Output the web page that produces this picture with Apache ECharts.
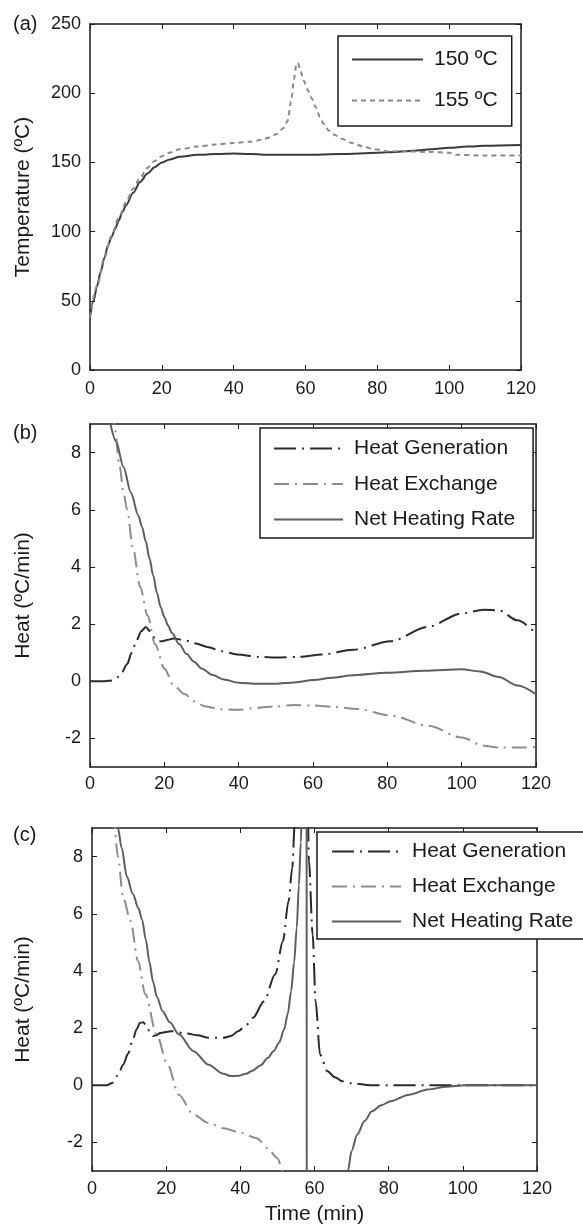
<!DOCTYPE html>
<html>
<head>
<meta charset="utf-8">
<script src="https://cdn.jsdelivr.net/npm/echarts@6/dist/echarts.min.js"></script>
<style>
html, body { margin: 0; padding: 0; background: #fff; }
#container { width: 583px; height: 1226px; }
</style>
</head>
<body>
<div id="container"></div>
<script>
// ---- (a) temperature, 150 and 155 ºC runs
var timeA150 = [0, 1, 2, 3, 4, 5, 6, 7, 8, 9, 10, 12, 14, 16, 18, 20, 22, 25, 30, 35, 40, 45, 50, 60, 70, 80, 85, 90, 95, 100, 105, 110, 120];
var temp150 = [38, 50, 61, 71, 81, 90, 96, 102, 108, 114, 119, 128, 136, 142, 146.5, 150, 152, 154, 155.5, 156, 156.5, 156, 155.5, 155.5, 156, 157, 157.5, 158.5, 159.5, 160.5, 161.5, 162, 162.5];
var timeA155 = [0, 2, 4, 6, 8, 10, 12, 14, 16, 18, 20, 22, 25, 30, 35, 40, 45, 48, 50, 52, 54, 55, 56, 56.8, 57.4, 57.9, 58.6, 59.5, 60.7, 61.8, 62.8, 64, 65, 66.5, 68, 70, 73, 76, 79, 83, 88, 95, 100, 102, 110, 120];
var temp155 = [38, 61, 81, 97, 110, 121, 131, 139, 146, 151, 154.5, 157, 159.5, 161.5, 163, 164, 165, 166.5, 168, 170.5, 175, 180, 194, 210, 220, 222, 216, 209, 202, 196, 190, 183, 178, 173, 170, 167, 164, 161.5, 159.5, 158, 158, 157.5, 157, 155.5, 155, 155];

// ---- (b) heat terms, 150 ºC
var timeBGen = [0, 4, 6, 7.4, 8.5, 10, 11.2, 12.5, 13.8, 15, 16.2, 17.5, 18.5, 19.5, 21, 22.5, 25.5, 28.5, 31.6, 35.5, 39.6, 45.6, 50, 55.7, 62.7, 70.8, 80.8, 90.9, 99.9, 106, 110, 115, 120];
var heatBGen = [0, 0, 0.03, 0.14, 0.3, 0.6, 1.0, 1.43, 1.75, 1.9, 1.75, 1.5, 1.4, 1.4, 1.45, 1.5, 1.43, 1.32, 1.2, 1.05, 0.94, 0.85, 0.83, 0.85, 0.94, 1.1, 1.4, 1.9, 2.37, 2.5, 2.48, 2.13, 1.67];
var timeBExc = [5, 6.5, 8, 9, 10, 11.5, 13.5, 15.5, 17.5, 20, 22.5, 25.5, 28, 31, 35, 40, 45, 50, 55, 60, 66, 72, 81, 91, 100, 106, 110, 117, 120];
var heatBExc = [10.5, 9.0, 7.5, 6.6, 6.0, 4.7, 3.3, 2.3, 1.3, 0.45, -0.15, -0.45, -0.7, -0.88, -0.98, -1.0, -0.93, -0.88, -0.83, -0.85, -0.9, -0.97, -1.2, -1.56, -1.97, -2.26, -2.32, -2.32, -2.3];
var timeBNet = [5.5, 7, 9, 11, 13, 14, 15, 16, 17, 18, 19, 20, 21, 22, 24, 26, 28, 30, 33, 36, 40, 45, 50, 55, 60, 65, 70, 80, 90, 100, 105, 110, 115, 120];
var heatBNet = [9.0, 8.4, 7.5, 6.6, 5.8, 5.4, 4.9, 4.3, 3.7, 3.1, 2.6, 2.25, 1.95, 1.7, 1.3, 0.95, 0.68, 0.45, 0.22, 0.06, -0.05, -0.09, -0.09, -0.04, 0.04, 0.12, 0.2, 0.3, 0.37, 0.42, 0.34, 0.15, -0.15, -0.45];

// ---- (c) heat terms, 155 ºC (runaway)
var timeCGen = [0, 4, 5.4, 7, 8.4, 9.7, 10.9, 12, 12.9, 13.8, 14.6, 15.5, 16.4, 17.4, 18.4, 21.4, 25.4, 28.5, 31.4, 35.4, 37.5, 39.4, 41.5, 43.4, 46.4, 49.4, 51.5, 53, 54, 54.7, 55.3, 57.5, 58.2, 58.5, 59.5, 60.3, 61.5, 63.5, 65.5, 67.5, 70, 75.5, 80, 90, 100, 110, 120];
var heatCGen = [0, 0, 0.08, 0.35, 0.72, 1.1, 1.54, 1.95, 2.18, 2.2, 2.1, 1.9, 1.72, 1.75, 1.83, 1.89, 1.81, 1.75, 1.66, 1.66, 1.72, 1.89, 2.1, 2.36, 2.94, 3.88, 5.05, 6.45, 7.6, 9.2, 20, 20, 9.5, 7.85, 5.28, 2.94, 1.07, 0.49, 0.28, 0.14, 0.07, 0, 0, 0, 0, 0, 0];
var timeCExc = [5.5, 7, 8.4, 10.4, 12.4, 14.4, 17.4, 20.4, 23.4, 27.4, 31.4, 35.4, 40.4, 44.4, 47.4, 50, 51.5, 52.5];
var heatCExc = [10.5, 8.0, 6.56, 5.75, 4.35, 3.18, 1.78, 0.72, -0.33, -1.03, -1.32, -1.5, -1.67, -1.85, -2.2, -2.55, -3.0, -3.6];
var timeCNet = [6.5, 7, 8, 9.4, 11, 12.5, 13.5, 14.5, 15.5, 16.5, 17.5, 19, 21, 23.4, 27.4, 31.4, 35.4, 37.5, 39.4, 41.5, 43.4, 45.5, 47.4, 49, 50.5, 51.8, 52.8, 53.7, 54.5, 55.2, 55.8, 56.3, 56.7, 57.2, 57.8, 58.0, 68.5, 69, 70, 71.5, 73.5, 75.5, 78, 80.5, 85.5, 90.5, 95.5, 100.5, 110, 120];
var heatCNet = [9.6, 9.0, 8.3, 7.3, 6.7, 6.2, 5.8, 5.1, 4.3, 3.6, 3.1, 2.6, 2.2, 1.78, 1.19, 0.72, 0.4, 0.32, 0.33, 0.4, 0.52, 0.7, 0.95, 1.2, 1.5, 1.95, 2.5, 3.3, 4.3, 5.5, 7.0, 8.5, 10, 30, 30, -30, -30, -3.0, -2.3, -1.73, -1.25, -0.91, -0.7, -0.56, -0.33, -0.15, -0.05, 0, 0, 0];

// ---- ticks
var xTicks = [0, 20, 40, 60, 80, 100, 120];
var yTicksTemp = [0, 50, 100, 150, 200, 250];
var yTicksHeat = [-2, 0, 2, 4, 6, 8];

var font = 'Liberation Sans, Arial, sans-serif';
var ink = '#1a1a1a';

function pairs(t, v) {
    return t.map(function (x, i) { return [x, v[i]]; });
}

function axis(gi, pos, min, max, ticks, labels, margin) {
    return {
        type: 'value', gridIndex: gi, position: pos, min: min, max: max,
        axisLine: { show: true, onZero: false, lineStyle: { color: ink, width: 1.5 } },
        axisTick: { show: true, inside: true, length: 5, customValues: ticks, lineStyle: { color: ink, width: 1 } },
        axisLabel: { show: labels, customValues: ticks, margin: margin, fontSize: 18, fontFamily: font, color: ink },
        splitLine: { show: false }
    };
}

var nameStyle = { fontSize: 21, fontFamily: font, color: ink };

var xAxes = [
    axis(0, 'bottom', 0, 120, xTicks, true, 10), axis(0, 'top', 0, 120, xTicks, false, 0),
    axis(1, 'bottom', 0, 120, xTicks, true, 8), axis(1, 'top', 0, 120, xTicks, false, 0),
    axis(2, 'bottom', 0, 120, xTicks, true, 9), axis(2, 'top', 0, 120, xTicks, false, 0)
];
xAxes[4].name = 'Time (min)';
xAxes[4].nameLocation = 'middle';
xAxes[4].nameGap = 33;
xAxes[4].nameTextStyle = nameStyle;

var yAxes = [
    axis(0, 'left', 0, 250, yTicksTemp, true, 9), axis(0, 'right', 0, 250, yTicksTemp, false, 0),
    axis(1, 'left', -3, 9, yTicksHeat, true, 9), axis(1, 'right', -3, 9, yTicksHeat, false, 0),
    axis(2, 'left', -3, 9, yTicksHeat, true, 9), axis(2, 'right', -3, 9, yTicksHeat, false, 0)
];
yAxes[0].name = 'Temperature (ºC)';
yAxes[2].name = 'Heat (ºC/min)';
yAxes[4].name = 'Heat (ºC/min)';
[0, 2, 4].forEach(function (i) {
    yAxes[i].nameLocation = 'middle';
    yAxes[i].nameGap = i === 4 ? 58 : 56;
    yAxes[i].nameTextStyle = nameStyle;
});

function line(name, xi, data, color, type, width) {
    return {
        name: name, type: 'line', xAxisIndex: xi, yAxisIndex: xi,
        data: data, symbol: 'none', showSymbol: false,
        smooth: 0.3, smoothMonotone: 'x', clip: true,
        lineStyle: { color: color, width: width, type: type },
        itemStyle: { color: color },
        emphasis: { disabled: true }
    };
}

var genDash = [22, 6, 2, 6];
var excDash = [15, 6, 2, 6];

function legend(names, left, top, padding, gap, w) {
    return {
        data: names, orient: 'vertical', left: left, top: top,
        padding: padding, itemGap: gap, itemWidth: w, itemHeight: 20,
        backgroundColor: '#fff', borderColor: ink, borderWidth: 1.5,
        selectedMode: false,
        itemStyle: { opacity: 0, borderWidth: 0 },
        textStyle: { fontSize: 21, fontFamily: font, color: ink, lineHeight: 20, padding: [0, 0, 0, 6] }
    };
}

var titleStyle = { fontSize: 20, fontFamily: font, fontWeight: 'normal', color: ink };

option = {
    animation: false,
    backgroundColor: '#fff',
    title: [
        { text: '(a)', left: 13, top: 14, padding: 0, textStyle: titleStyle },
        { text: '(b)', left: 13, top: 423, padding: 0, textStyle: titleStyle },
        { text: '(c)', left: 13, top: 825, padding: 0, textStyle: titleStyle }
    ],
    grid: [
        { left: 90, top: 24, width: 431, height: 346 },
        { left: 90, top: 424, width: 446, height: 343 },
        { left: 92, top: 828, width: 445, height: 343 }
    ],
    xAxis: xAxes,
    yAxis: yAxes,
    legend: [
        legend(['150 ºC', '155 ºC'], 338, 36, [13, 14, 15, 13], 20, 71),
        legend(['Heat Generation', 'Heat Exchange', 'Net Heating Rate'], 260, 428, [10, 18, 8, 13], 14.5, 69),
        legend(['Heat Generation', 'Heat Exchange', 'Net Heating Rate'], 317, 832, [9, 40, 7, 14], 14, 69)
    ],
    series: [
        line('150 ºC', 0, pairs(timeA150, temp150), '#3a3a3a', 'solid', 2),
        line('155 ºC', 0, pairs(timeA155, temp155), '#8a8a8a', [5, 4], 2),

        line('Heat Generation', 2, pairs(timeBGen, heatBGen), '#2a2a2a', genDash, 2),
        line('Heat Exchange', 2, pairs(timeBExc, heatBExc), '#8c8c8c', excDash, 2),
        line('Net Heating Rate', 2, pairs(timeBNet, heatBNet), '#5e5e5e', 'solid', 2),

        line('Heat Generation', 4, pairs(timeCGen, heatCGen), '#2a2a2a', genDash, 2),
        line('Heat Exchange', 4, pairs(timeCExc, heatCExc), '#8c8c8c', excDash, 2),
        line('Net Heating Rate', 4, pairs(timeCNet, heatCNet), '#5e5e5e', 'solid', 2)
    ]
};

var dom = document.getElementById('container');
var myChart = echarts.init(dom, null, { renderer: 'canvas' });
if (option && typeof option === 'object') {
    myChart.setOption(option, true);
}
window.onresize = function () {
    myChart.resize();
};
</script>
</body>
</html>
